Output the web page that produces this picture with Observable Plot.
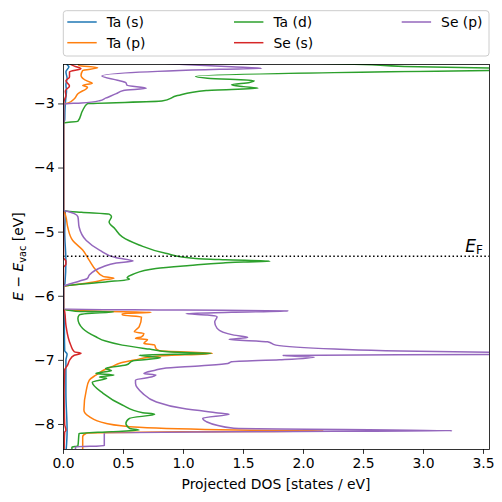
<!DOCTYPE html>
<html><head><meta charset="utf-8">
<script src="https://cdn.jsdelivr.net/npm/d3@7"></script>
<script src="https://cdn.jsdelivr.net/npm/@observablehq/plot@0.6"></script>
<style>
body{margin:0;background:#fff;}
#wrap{width:502px;height:502px;}
</style></head><body><div id="wrap"></div>
<script>
// ---- data: [energy (eV), projected DOS (states/eV)] ----
const taS = [
 [-2.36,0.03],[-2.385,0.03],[-2.42,0.045],[-2.5,0.02],[-2.6,0.03],[-2.7,0.02],[-2.8,0.025],[-2.9,0.02],
 [-3.0,0.015],[-3.1,0.012],[-3.25,0.01],[-3.3,0],[-4.66,0],[-4.68,0.015],[-5.0,0.01],[-5.45,0.02],
 [-5.8,0.012],[-5.84,0],[-6.2,0],[-6.25,0.005],[-6.85,0.01],[-6.9,0.03],[-7.0,0.02],[-7.5,0.02],
 [-8.1,0.03],[-8.45,0.02]
];
const taP = [
 [-2.36,0.12],[-2.40,0.13],[-2.436,0.285],[-2.478,0.16],[-2.556,0.146],[-2.645,0.20],[-2.676,0.24],
 [-2.712,0.16],[-2.738,0.2],[-2.841,0.12],[-2.919,0.09],[-2.988,0.035],[-3.0,0],
 [-4.665,0],[-4.70,0.01],[-4.76,0.02],[-4.92,0.035],[-5.13,0.077],[-5.28,0.16],[-5.44,0.215],
 [-5.59,0.27],[-5.69,0.33],[-5.72,0.42],[-5.74,0.35],[-5.78,0.24],[-5.83,0.05],[-5.845,0],
 [-6.20,0],[-6.235,0.3],[-6.252,0.73],[-6.27,0.49],[-6.294,0.49],[-6.321,0.65],[-6.477,0.63],
 [-6.555,0.59],[-6.58,0.67],[-6.632,0.65],[-6.657,0.60],[-6.673,0.70],[-6.735,0.67],[-6.762,0.76],
 [-6.813,0.77],[-6.850,0.80],[-6.891,1.24],[-6.93,0.80],[-6.995,0.59],[-7.037,0.48],[-7.10,0.40],
 [-7.178,0.31],[-7.229,0.27],[-7.307,0.215],[-7.463,0.19],[-7.774,0.17],[-7.879,0.215],[-7.981,0.35],
 [-8.044,0.63],[-8.086,1.44],[-8.101,2.17],[-8.115,1.0],[-8.137,0.19],[-8.19,0.16],[-8.45,0.16]
];
const taD = [
 [-2.36,2.0],[-2.385,2.5],[-2.415,2.84],[-2.44,3.55],[-2.46,4.5],[-2.48,3.55],[-2.57,1.10],[-2.60,1.2],
 [-2.64,1.59],[-2.665,1.55],[-2.70,1.40],[-2.73,1.5],[-2.755,1.62],[-2.79,1.19],[-2.87,0.95],
 [-2.956,0.82],[-2.997,0.2],[-3.10,0.16],[-3.27,0.12],[-3.293,0.01],[-3.30,0],
 [-4.66,0],[-4.67,0.02],[-4.69,0.15],[-4.72,0.38],[-4.76,0.40],[-4.84,0.38],[-4.95,0.43],[-5.075,0.49],
 [-5.20,0.63],[-5.33,0.85],[-5.41,1.10],[-5.43,1.35],[-5.452,1.72],[-5.465,1.5],[-5.48,1.33],[-5.52,1.05],
 [-5.567,0.77],[-5.656,0.58],[-5.713,0.53],[-5.734,0.55],[-5.776,0.35],[-5.827,0.05],[-5.838,0],
 [-6.20,0],[-6.232,0.1],[-6.243,0.42],[-6.27,0.2],[-6.294,0.13],[-6.346,0.12],[-6.502,0.16],[-6.632,0.27],
 [-6.699,0.35],[-6.762,0.49],[-6.824,0.715],[-6.87,0.9],[-6.891,1.23],[-6.918,0.63],[-6.96,0.81],
 [-7.006,0.58],[-7.073,0.52],[-7.125,0.35],[-7.16,0.40],[-7.203,0.27],[-7.229,0.42],[-7.26,0.30],
 [-7.28,0.36],[-7.343,0.24],[-7.514,0.33],[-7.696,0.49],[-7.816,0.66],[-7.841,0.76],[-7.903,0.55],
 [-7.981,0.52],[-8.06,0.55],[-8.086,0.63],[-8.112,0.40],[-8.14,0.13],[-8.335,0.12],[-8.355,0.07],[-8.45,0.07]
];
const seS = [
 [-2.36,0.05],[-2.385,0.06],[-2.41,0.09],[-2.45,0.145],[-2.50,0.05],[-2.58,0.05],[-2.64,0.02],
 [-2.72,0.05],[-2.80,0.015],[-2.87,0.02],[-2.95,0.005],[-3.0,0],
 [-5.40,0],[-5.45,0.02],[-5.50,0.02],[-5.55,0],
 [-6.20,0],[-6.24,0.01],[-6.45,0.02],[-6.76,0.06],[-6.866,0.09],[-6.89,0.146],[-6.92,0.09],
 [-7.00,0.05],[-7.07,0.035],[-7.15,0.01],[-7.5,0.005],[-8.0,0.01],[-8.09,0.02],[-8.12,0.01],[-8.45,0.005]
];
const seP = [
 [-2.36,0.8],[-2.385,1.0],[-2.42,1.4],[-2.445,1.65],[-2.46,1.3],[-2.565,0.32],[-2.63,0.45],[-2.67,0.52],
 [-2.71,0.53],[-2.755,0.69],[-2.79,0.5],[-2.84,0.44],[-2.91,0.35],[-2.95,0.30],[-2.985,0.15],[-3.0,0],
 [-4.66,0],[-4.675,0.03],[-4.71,0.09],[-4.76,0.12],[-4.92,0.13],[-5.13,0.19],[-5.28,0.30],[-5.40,0.44],
 [-5.45,0.58],[-5.48,0.44],[-5.54,0.33],[-5.67,0.215],[-5.72,0.20],[-5.765,0.13],[-5.827,0.02],[-5.84,0],
 [-6.20,0],[-6.215,1.0],[-6.23,1.87],[-6.25,1.40],[-6.27,1.02],[-6.294,1.2],[-6.32,1.28],[-6.40,1.26],
 [-6.50,1.28],[-6.606,1.42],[-6.642,1.535],[-6.673,1.38],[-6.71,1.70],[-6.762,1.77],[-6.824,2.26],
 [-6.855,2.81],[-6.875,3.7],[-6.89,4.5],[-6.906,3.6],[-6.925,1.83],[-6.95,2.09],[-6.99,1.80],
 [-7.022,1.40],[-7.047,1.37],[-7.084,1.15],[-7.125,0.83],[-7.151,0.77],[-7.203,0.67],[-7.229,0.77],
 [-7.255,0.74],[-7.307,0.60],[-7.358,0.60],[-7.514,0.66],[-7.645,0.77],[-7.748,0.99],[-7.816,1.27],
 [-7.841,1.38],[-7.903,1.16],[-7.956,1.19],[-8.059,1.42],[-8.097,3.24],[-8.112,1.38],[-8.137,0.34],
 [-8.33,0.34],[-8.35,0.1],[-8.45,0.1]
];
const seriesNames = ["Ta (s)", "Ta (p)", "Ta (d)", "Se (s)", "Se (p)"];
const seriesColors = ["#1f77b4", "#ff7f0e", "#2ca02c", "#d62728", "#9467bd"];
const seriesData = [taS, taP, taD, seS, seP];
const fermiLevel = -5.375;
const xTicks = [0, 0.5, 1, 1.5, 2, 2.5, 3, 3.5];
const yTicks = [-8, -7, -6, -5, -4, -3];
const xLabel = "Projected DOS [states / eV]";

// ---- chart ----
const rows = seriesNames.map((name, i) =>
  d3.sort(seriesData[i], d => d[0]).map(([E, dos]) => ({name, E, dos})));

const FS = 13.9;
const svg = Plot.plot({
  width: 502, height: 502,
  marginLeft: 63, marginRight: 13, marginTop: 64, marginBottom: 53,
  style: {fontFamily: "DejaVu Sans, sans-serif", fontSize: FS + "px", background: "white", color: "black"},
  x: {domain: [0, 3.55]},
  y: {domain: [-8.39, -2.385]},
  marks: [
    ...rows.map((r, i) => Plot.line(r, {x: "dos", y: "E", stroke: seriesColors[i], strokeWidth: 1.5, curve: "monotone-y", clip: true})),
    Plot.ruleY([fermiLevel], {stroke: "black", strokeWidth: 1.5, strokeDasharray: "1.5,2.475"}),
    Plot.axisX({ticks: xTicks, tickFormat: d3.format(".1f"), tickSize: 4.9, tickPadding: 4, strokeWidth: 0.8, label: null}),
    Plot.axisY({ticks: yTicks, tickFormat: d3.format("d"), tickSize: 4.9, tickPadding: 4, strokeWidth: 0.8, label: null}),
    Plot.frame({stroke: "black", strokeWidth: 0.8})
  ]
});
document.getElementById("wrap").appendChild(svg);

const s = d3.select(svg);
// x label
s.append("text").attr("x", 276).attr("y", 488.5).attr("text-anchor", "middle")
  .attr("font-size", FS).attr("fill", "black").text(xLabel);
// y label
const yl = s.append("text").attr("transform", "translate(22.7,256.5) rotate(-90)")
  .attr("text-anchor", "middle").attr("font-size", FS).attr("fill", "black");
yl.append("tspan").attr("font-style", "italic").text("E");
yl.append("tspan").text(" \u2212 ");
yl.append("tspan").attr("font-style", "italic").text("E");
yl.append("tspan").attr("font-size", 9.7).attr("dy", 3).text("vac");
yl.append("tspan").attr("dy", -3).text(" [eV]");
// E_F label
const ef = s.append("text").attr("x", 483).attr("y", 251.5).attr("text-anchor", "end").attr("fill", "black");
ef.append("tspan").attr("font-style", "italic").attr("font-size", 17).text("E");
ef.append("tspan").attr("font-size", 12).attr("dy", 2).text("F");

// legend
const lg = s.append("g");
lg.append("rect").attr("x", 63.3).attr("y", 10.7).attr("width", 425.7).attr("height", 45.3)
  .attr("rx", 3).attr("fill", "white").attr("fill-opacity", 0.8).attr("stroke", "#cccccc").attr("stroke-width", 1);
const colX = [67.3, 234, 401.7];
const rowY = [22, 42.7];
seriesNames.forEach((name, i) => {
  const c = Math.floor(i / 2), r = i % 2;
  lg.append("line").attr("x1", colX[c]).attr("x2", colX[c] + 29.4)
    .attr("y1", rowY[r]).attr("y2", rowY[r]).attr("stroke", seriesColors[i]).attr("stroke-width", 1.5);
  lg.append("text").attr("x", colX[c] + 39.4).attr("y", rowY[r] + 5).attr("font-size", FS)
    .attr("text-anchor", "start").attr("fill", "black").text(name);
});
</script></body></html>
